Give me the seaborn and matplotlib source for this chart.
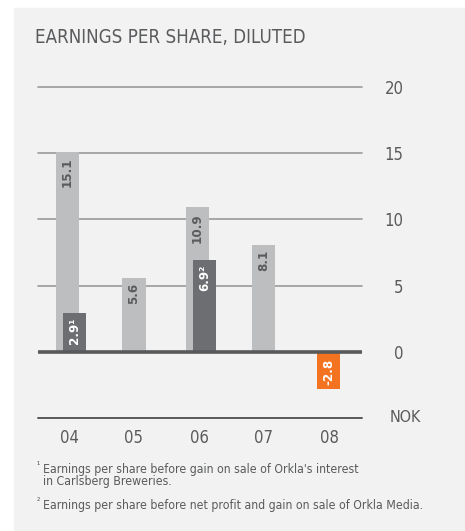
import matplotlib
matplotlib.use("Agg")
import matplotlib.pyplot as plt
import matplotlib.transforms as mtransforms
from matplotlib.patches import Rectangle
import numpy as np
import seaborn as sns

# ---- data ---------------------------------------------------------------
years = ["04", "05", "06", "07", "08"]
eps_diluted = [15.1, 5.6, 10.9, 8.1, -2.8]
eps_adjusted = [2.9, None, 6.9, None, None]
adjusted_marks = ["¹", "", "²", "", ""]
y_ticks = [0, 5, 10, 15, 20]
unit_label = "NOK"
title = "EARNINGS PER SHARE, DILUTED"
footnote_marks = ["¹", "²"]
footnotes = [
    ["Earnings per share before gain on sale of Orkla's interest",
     "in Carlsberg Breweries."],
    ["Earnings per share before net profit and gain on sale of Orkla Media."],
]

# ---- style --------------------------------------------------------------
sns.set_style("white")
plt.rcParams["font.family"] = ["DejaVu Sans"]
plt.rcParams["font.stretch"] = "condensed"

PANEL = "#f2f2f2"
LIGHT = "#bdbec0"
DARK = "#6d6e71"
ORANGE = "#f37321"
TEXT = "#5a5b5d"
GRID = "#9a9a9a"
AXIS = "#58595b"

W, H = 465, 531
fig = plt.figure(figsize=(W / 100, H / 100), dpi=100, facecolor="white")
fig.patches.append(Rectangle((14 / W, 1 / H), 1 - 14 / W, 522 / H,
                             transform=fig.transFigure, color=PANEL, zorder=-5))

ax = fig.add_axes([38 / W, (H - 418) / H, 324 / W, 331 / H])
ax.set_facecolor("none")

bar_w = 0.354
colors = [ORANGE if v < 0 else LIGHT for v in eps_diluted]
sns.barplot(x=years, y=eps_diluted, hue=years, palette=colors, legend=False,
            width=bar_w, saturation=1, linewidth=0, ax=ax, zorder=2)

# bars with a companion (adjusted) bar are nudged left, the companion sits right
light_shift, dark_shift = -0.03, 0.085
positions = []
for i, patch in enumerate(ax.patches[:len(years)]):
    if eps_adjusted[i] is not None:
        patch.set_x(patch.get_x() + light_shift)
    positions.append(patch.get_x() + patch.get_width() / 2)

idx = np.arange(len(years))
adj_idx = [i for i, v in enumerate(eps_adjusted) if v is not None]
adj_vals = [eps_adjusted[i] for i in adj_idx]
ax.bar(idx[adj_idx] + dark_shift, adj_vals, width=bar_w, color=DARK,
       linewidth=0, zorder=2.5)

# value labels inside the bars
for i, v in enumerate(eps_diluted):
    neg = v < 0
    ax.annotate(f"{v:.1f}", xy=(positions[i], v),
                xytext=(0, 3 if neg else -4), textcoords="offset points",
                rotation=90, ha="center", va="bottom" if neg else "top",
                fontsize=9.5, fontweight="bold",
                color="white" if neg else TEXT, zorder=4)
for i, v in zip(adj_idx, adj_vals):
    ax.annotate(f"{v:.1f}{adjusted_marks[i]}", xy=(idx[i] + dark_shift, v),
                xytext=(0, -3), textcoords="offset points",
                rotation=90, ha="center", va="top",
                fontsize=9.5, fontweight="bold", color="white", zorder=4)

# horizontal rules
for t in y_ticks[1:]:
    ax.axhline(t, color=GRID, lw=1.2, zorder=1, clip_on=False)
ax.axhline(0, color=AXIS, lw=2.6, zorder=3)
ax.axhline(-5, color=AXIS, lw=1.4, zorder=3, clip_on=False)

ax.set_xlim(-0.477, 4.508)
ax.set_ylim(-5, 20)
for s in ax.spines.values():
    s.set_visible(False)
ax.set_xlabel("")
ax.set_ylabel("")

ax.yaxis.tick_right()
ax.set_yticks(y_ticks)
ax.set_yticklabels([str(t) for t in y_ticks])
ax.tick_params(axis="y", length=0, pad=30, labelsize=12, labelcolor=TEXT)
for lab in ax.get_yticklabels():
    lab.set_ha("right")
ax.tick_params(axis="x", length=0, pad=8, labelsize=12, labelcolor=TEXT)

unit_tr = mtransforms.blended_transform_factory(ax.transAxes, ax.transData)
ax.text(1 + 28 / 324, -5, unit_label, transform=unit_tr, ha="left",
        va="center", fontsize=11.5, color=TEXT)

# title
fig.text(35 / W, 1 - 43 / H, title, ha="left", va="baseline",
         fontsize=13.4, color=TEXT)

# footnotes
baselines = [[473, 485], [509]]
for mark, lines, bases in zip(footnote_marks, footnotes, baselines):
    fig.text(36.5 / W, 1 - (bases[0] - 5) / H, mark, ha="left", va="baseline",
             fontsize=6.5, color=TEXT)
    for line, b in zip(lines, bases):
        fig.text(43 / W, 1 - b / H, line, ha="left", va="baseline",
                 fontsize=8.8, color=TEXT)

fig.savefig("out.png", dpi=100, facecolor="white")
